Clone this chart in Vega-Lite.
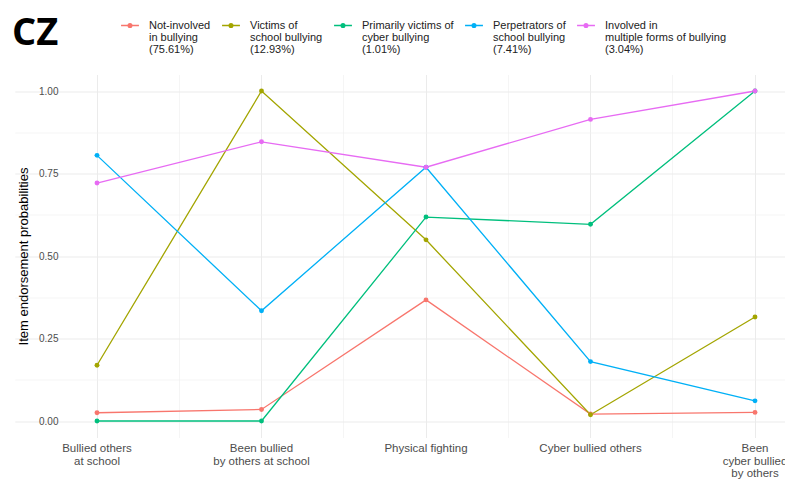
{
  "$schema": "https://vega.github.io/schema/vega-lite/v6.json",
  "width": 722,
  "height": 363,
  "autosize": {"type": "none"},
  "padding": {"left": 63, "top": 74.5, "right": 0, "bottom": 42.5},
  "background": "white",
  "title": {
    "text": "CZ",
    "anchor": "start",
    "frame": "group",
    "font": "Open Sans",
    "fontSize": 38,
    "fontWeight": "bold",
    "color": "black",
    "dx": -51,
    "dy": 41
  },
  "config": {
    "view": {"stroke": null},
    "font": "Liberation Sans"
  },
  "data": {
    "values": [
      {"group": "Not-involved\nin bullying\n(75.61%)", "item": "Bullied others\nat school", "p": 0.025},
      {"group": "Not-involved\nin bullying\n(75.61%)", "item": "Been bullied\nby others at school", "p": 0.035},
      {"group": "Not-involved\nin bullying\n(75.61%)", "item": "Physical fighting", "p": 0.367},
      {"group": "Not-involved\nin bullying\n(75.61%)", "item": "Cyber bullied others", "p": 0.021},
      {"group": "Not-involved\nin bullying\n(75.61%)", "item": "Been\ncyber bullied\nby others", "p": 0.026},

      {"group": "Victims of\nschool bullying\n(12.93%)", "item": "Bullied others\nat school", "p": 0.169},
      {"group": "Victims of\nschool bullying\n(12.93%)", "item": "Been bullied\nby others at school", "p": 1.0},
      {"group": "Victims of\nschool bullying\n(12.93%)", "item": "Physical fighting", "p": 0.549},
      {"group": "Victims of\nschool bullying\n(12.93%)", "item": "Cyber bullied others", "p": 0.019},
      {"group": "Victims of\nschool bullying\n(12.93%)", "item": "Been\ncyber bullied\nby others", "p": 0.315},

      {"group": "Primarily victims of\ncyber bullying\n(1.01%)", "item": "Bullied others\nat school", "p": 0.0},
      {"group": "Primarily victims of\ncyber bullying\n(1.01%)", "item": "Been bullied\nby others at school", "p": 0.0},
      {"group": "Primarily victims of\ncyber bullying\n(1.01%)", "item": "Physical fighting", "p": 0.618},
      {"group": "Primarily victims of\ncyber bullying\n(1.01%)", "item": "Cyber bullied others", "p": 0.596},
      {"group": "Primarily victims of\ncyber bullying\n(1.01%)", "item": "Been\ncyber bullied\nby others", "p": 1.0},

      {"group": "Perpetrators of\nschool bullying\n(7.41%)", "item": "Bullied others\nat school", "p": 0.805},
      {"group": "Perpetrators of\nschool bullying\n(7.41%)", "item": "Been bullied\nby others at school", "p": 0.334},
      {"group": "Perpetrators of\nschool bullying\n(7.41%)", "item": "Physical fighting", "p": 0.769},
      {"group": "Perpetrators of\nschool bullying\n(7.41%)", "item": "Cyber bullied others", "p": 0.180},
      {"group": "Perpetrators of\nschool bullying\n(7.41%)", "item": "Been\ncyber bullied\nby others", "p": 0.061},

      {"group": "Involved in\nmultiple forms of bullying\n(3.04%)", "item": "Bullied others\nat school", "p": 0.721},
      {"group": "Involved in\nmultiple forms of bullying\n(3.04%)", "item": "Been bullied\nby others at school", "p": 0.846},
      {"group": "Involved in\nmultiple forms of bullying\n(3.04%)", "item": "Physical fighting", "p": 0.769},
      {"group": "Involved in\nmultiple forms of bullying\n(3.04%)", "item": "Cyber bullied others", "p": 0.914},
      {"group": "Involved in\nmultiple forms of bullying\n(3.04%)", "item": "Been\ncyber bullied\nby others", "p": 1.0}
    ]
  },
  "resolve": {"axis": {"x": "independent"}},
  "layer": [
    {
      "mark": {"type": "point", "opacity": 0},
      "encoding": {
        "x": {
          "field": "item",
          "type": "nominal",
          "sort": null,
          "scale": {"type": "band", "paddingInner": 0, "paddingOuter": 0, "range": [-48.25, 774.25]},
          "axis": {
            "orient": "top",
            "bandPosition": 0,
            "values": ["Been bullied\nby others at school", "Physical fighting", "Cyber bullied others", "Been\ncyber bullied\nby others"],
            "labels": false,
            "ticks": false,
            "domain": false,
            "title": null,
            "grid": true,
            "gridColor": "#F0F0F0",
            "gridWidth": 0.7
          }
        }
      }
    },
    {
      "mark": {"type": "line", "strokeWidth": 1.3},
      "encoding": {
        "x": {
          "field": "item",
          "type": "nominal",
          "sort": null,
          "bandPosition": 0.5,
          "axis": {
            "orient": "bottom",
            "title": null,
            "labelAngle": 0,
            "labelExpr": "split(datum.label, '\\n')",
            "labelFont": "Liberation Sans",
            "labelFontSize": 11.5,
            "labelColor": "#4D4D4D",
            "labelLineHeight": 12.7,
            "labelPadding": 5,
            "labelBaseline": "top",
            "ticks": false,
            "domain": false,
            "grid": true,
            "gridColor": "#EBEBEB",
            "gridWidth": 1
          }
        },
        "y": {
          "field": "p",
          "type": "quantitative",
          "scale": {"domain": [-0.05, 1.05], "nice": false, "zero": false},
          "axis": {
            "title": "Item endorsement probabilities",
            "titleFont": "Liberation Sans",
            "titleFontSize": 13,
            "titleFontWeight": "normal",
            "titleColor": "black",
            "titlePadding": 8,
            "values": [0, 0.125, 0.25, 0.375, 0.5, 0.625, 0.75, 0.875, 1],
            "labelExpr": "(datum.value * 4) % 1 == 0 ? format(datum.value, '.2f') : ''",
            "labelFont": "Liberation Sans",
            "labelFontSize": 10,
            "labelColor": "#4D4D4D",
            "labelPadding": 5,
            "ticks": false,
            "domain": false,
            "grid": true,
            "gridColor": {"condition": {"test": "(datum.value * 4) % 1 != 0", "value": "#F0F0F0"}, "value": "#EBEBEB"},
            "gridWidth": {"condition": {"test": "(datum.value * 4) % 1 != 0", "value": 0.7}, "value": 1}
          }
        },
        "color": {
          "field": "group",
          "type": "nominal",
          "scale": {
            "domain": [
              "Not-involved\nin bullying\n(75.61%)",
              "Victims of\nschool bullying\n(12.93%)",
              "Primarily victims of\ncyber bullying\n(1.01%)",
              "Perpetrators of\nschool bullying\n(7.41%)",
              "Involved in\nmultiple forms of bullying\n(3.04%)"
            ],
            "range": ["#F8766D", "#A3A500", "#00BF7D", "#00B0F6", "#E76BF3"]
          },
          "legend": {
            "orient": "none",
            "direction": "horizontal",
            "legendX": 57,
            "legendY": -59,
            "title": null,
            "labelExpr": "split(datum.label, '\\n')",
            "labelFont": "Liberation Sans",
            "labelFontSize": 11,
            "labelColor": "#222222",
            "labelOffset": 9,
            "columnPadding": 8,
            "symbolType": "M-1,0H1M-0.2,0A0.2,0.2,0,1,0,0.2,0A0.2,0.2,0,1,0,-0.2,0Z",
            "symbolSize": 320,
            "symbolStrokeWidth": 1.5,
            "encode": {
              "labels": {"update": {"lineHeight": {"value": 12}}}
            }
          }
        }
      }
    },
    {
      "mark": {"type": "point", "filled": true, "size": 24, "opacity": 1},
      "encoding": {
        "x": {"field": "item", "type": "nominal", "sort": null, "bandPosition": 0.5, "axis": null},
        "y": {"field": "p", "type": "quantitative"},
        "color": {"field": "group", "type": "nominal"}
      }
    }
  ]
}
